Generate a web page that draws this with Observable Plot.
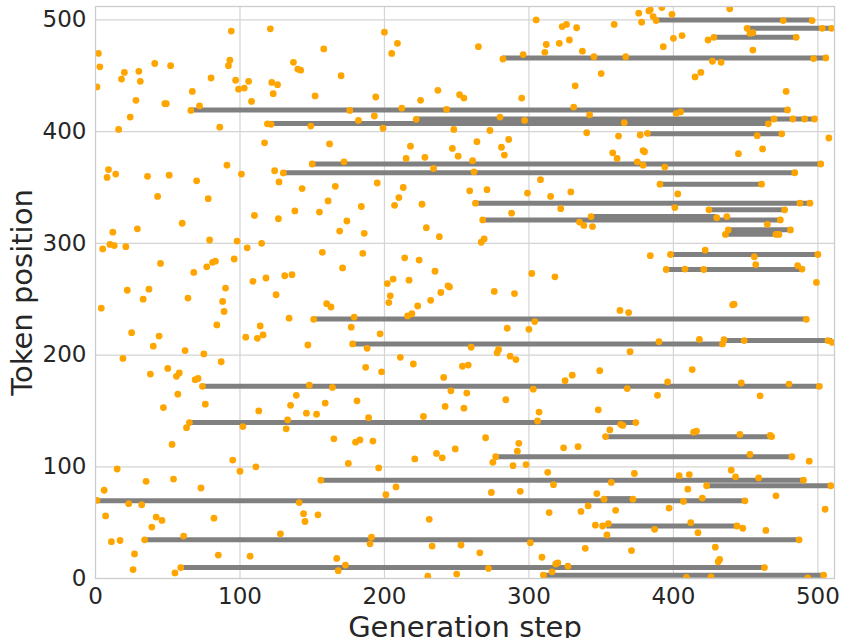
<!DOCTYPE html>
<html><head><meta charset="utf-8">
<script src="https://cdn.jsdelivr.net/npm/d3@7"></script>
<script src="https://cdn.jsdelivr.net/npm/@observablehq/plot@0.6"></script>
<style>body{margin:0;background:#fff}</style>
</head><body><div id="chart"></div>
<script>
const xTicks = [0, 100, 200, 300, 400, 500];
const yTicks = [0, 100, 200, 300, 400, 500];
const xLabel = "Generation step";
const yLabel = "Token position";

// gray segments: token position, first step, last step
const segPos   = [500, 492.5, 484.4, 466, 419.4, 407.3, 411.3, 398, 371, 363.2, 353, 336, 330, 321, 324, 312.2, 308.2, 290, 276.6, 232.2, 210, 213, 172, 139.6, 126.8, 109, 88, 83, 69.5, 71.5, 47, 34.6, 9.8, 3];
const segStart = [388, 451, 428, 282, 66, 119, 222, 382, 150, 130, 391, 263, 424.6, 268, 343, 437, 435.6, 397.6, 395, 150.8, 178, 434, 74.2, 65, 353, 277, 156, 422.8, 1, 352, 354, 34, 59, 310];
const segEnd   = [496, 510, 485, 505.5, 479, 466, 497.7, 475, 502, 484, 461, 494.5, 477, 474, 430, 480.6, 472.6, 500, 488.7, 491.7, 434, 510, 500.7, 374, 468.4, 482, 489.6, 508.8, 449.5, 372, 444, 487, 462.7, 503.7];

// orange points: [step, position]
const dots = [
[94,490],[121,492],[2,470],[3,458],[1,440],[20,453],[18,447],[30,454],[31,445],[41,461],[52,459],[28,428],[24,413],[16,402],[48,425],[49,425],[67,436],[66,419],[72,423],[80,448],[93,464],[92,459],[97,446],[99,438],[103,439],[106,445],[108,427],[86,404],[122,444],[126,442],[123,434],[119,407],[121.5,406.5],[117,390],[124,365],[127,355],[9,366],[8,359],[14,362],[36,360],[51,361],[70,356],[91,370],[101,362],[43,342],[78,340],
[200,489],[209,479],[205,470],[158,474],[137,462],[140,456],[142,455],[170,450],[152,432],[194,431],[176,419],[182,410],[193,414],[149,405],[199,403],[212,421],[222,411],[225,428],[237,437],[243,420],[252,433],[255,430],[248,402],[162,389],[218,387],[247,385],[251,378],[215,376],[228,377],[234,367],[150,371],[172,373],[130,363],[143,349],[166,351],[195,354],[213,350],[161,338],[210,341],
[305,500],[323,494],[326,496],[333,493],[359,496],[376,506],[378,498],[383,508],[265,476],[312,478],[311,471],[321,479],[328,482],[337,472],[282,465],[296,469],[345,467],[367,467],[350,452],[332,441],[295,430],[331,422],[342,415],[366,408],[280,413],[297,410],[273,401],[264,391],[286,393],[281,386],[283,379],[340,399],[362,396],[377,397],[382,398.5],[358,381],[361,376],[379,383],[380,382],[375,373],[379,370],[261,374],[262,364],[308,357],[259,347],[271,348],[299,345],[315,342],[329,346],
[392,511],[384,509],[439,510],[399,505],[386,503],[388,499.4],[476,499.4],[496,499.4],[451,492.5],[453,488],[455,488.5],[503,492.5],[509.5,492.5],[424,482],[428,484.4],[485,484.4],[406,486],[400,483.5],[393,476],[455,473],[497,465.4],[505.5,466],[427,463],[433,462],[419,453],[415,449],[478,436],[479,419.4],[402,416.4],[405,417.6],[469.6,411.3],[482.7,411.3],[490.8,411.3],[497.7,411.3],[465.7,407],[475,398],[458,396.4],[507.6,394.3],[445,380.3],[461.7,384.5],[394,368.3],[502,371],[484,363.2],[390.7,353],[461,353],[403,344.2],[487.6,336],[494.5,336],
[110,325],[126.6,322],[12,310],[29,313],[60,318],[5,295],[10,299],[13,298],[21,297],[79,303],[98,302],[105,296],[115,300],[45,282],[68,274],[77,279],[81,283],[83,284],[96,286],[109,266],[118,269],[125,254],[22,258],[37,259],[33,250],[64,251],[4,242],[90,260],[88,248],[89,239],[84,227],[25,220],[44,217],[40,208],[62,204],[75,201],[19,197],[87,194],[114,226],[104,216],[112,215],[116,218],[50,188],[38,183],[56,181],[58,184],[69,178],[71,179],[74,172],[57,165],
[138,329],[155,328],[184,333],[174,320],[169,311],[186,309],[207,334],[226,335],[229,314],[238,306],[157,292],[185,291],[171,278],[131,271],[136,272],[214,287],[224,285],[235,275],[202,264],[206,268],[217,267],[244,262],[245,261],[239,256],[204,253],[203,247],[232,249],[223,244],[216,235],[219,237],[160,246],[163,243],[134,233],[151,232],[179,234],[177,225],[197,219],[147,209],[178,210],[188,206],[211,198],[220,192],[187,189],[198,185],[241,180],[254,190],[246,168],[148,173],[164,171],[139,164],
[263,336],[288,327],[322,331],[268,321],[335,319],[338,316],[343,324],[344,315],[267,301],[269,304],[384,289],[302,273],[318,270],[276,257],[290,255],[363,240],[369,238],[304,230],[285,224],[300,223],[260,207],[278,202],[279,205],[287,199],[291,196],[258,191],[370,203],[349,186],[330,182],[325,177],[257,166],[303,169.5],[368,170],
[401,332],[424.6,330],[477,330],[430,323],[437,324],[474,321],[465,317],[438,312],[481,312],[436,308],[473,308],[471,308],[398,290],[422,294],[456,288],[500,290],[457,281],[395,276.6],[408,277],[421,276.6],[486,280],[489,277],[499,265],[441,245],[442,245.5],[492,232],[390,212],[418,214],[434,210],[435,213.7],[449,213],[507,213],[510,211.3],[413,187],[396,176],[447,175],[480,174],[501,172],[389,164],[460,163.5],
[47,153],[76,156],[113,150],[65,139.6],[63,135],[102,136],[53,120],[95,106],[100,96],[111,100],[15,98],[35,87],[54,89],[73,81],[6,79],[1,70],[23,67],[32,66],[7,56],[42,55],[46,52],[39,46],[82,54],[11,33],[17,34],[34,34.6],[61,38],[27,22],[85,21],[107,20],[26,8],[55,5],[59,9.8],[128,40],
[135,155],[146,148],[153,147],[159,157],[181,159],[189,144],[133,142],[132,134],[165,125],[180,122],[183,124],[192,123],[175,103],[196,99],[227,145],[242,154],[255,152.5],[221,107],[236,112],[240,108],[249,116],[156,88],[208,82],[201,75],[141,68],[144,58],[145,51],[154,57],[191,37],[190,31],[167,18],[173,12],[168,7],[231,53],[233,29],[253,30],[230,2],[250,4],
[284,160],[307,149],[306,141],[348,151],[374,139.6],[363.5,138],[365,137],[356,133],[353,127],[270,126],[293,121],[292,114],[324,117],[334,118],[277,109],[275,104],[289,101],[298,102],[313,95],[373,94],[317,84],[357,86],[274,77],[294,78],[347,76],[352,71],[372,71],[341,65],[336,60],[360,61],[314,59],[346,47.7],[351,47],[355,49],[354,39],[301,32],[266,23],[272,9],[309,19],[318.5,13],[320,14],[327,11],[316,6],[310,3],[339,27],[371,25],
[414,131],[416,132],[446,129],[467,128],[468,127],[453,111],[482,109],[494,105],[440,97],[404,92],[411,93],[443,91],[459,90],[490,88],[423,83],[509,83],[410,80],[471,74],[420,72],[407,69],[449.5,69.5],[397,63],[505,62],[387,44],[412,50],[444,47],[448,45],[417,41],[464,43],[487,34.6],[429,28],[431,15],[432,17],[463,9.8],[409,1],[426,1.4],[493,0.5],[504,3]
];

const segments = segPos.map((p, i) => ({pos: p, start: segStart[i], end: segEnd[i]}));

const chart = Plot.plot({
  width: 842,
  height: 638,
  marginLeft: 95,
  marginRight: 8,
  marginTop: 6,
  marginBottom: 60,
  style: {fontFamily: "'DejaVu Sans', sans-serif", background: "#ffffff", color: "#262626", overflow: "visible"},
  x: {domain: [0, 511.5]},
  y: {domain: [0, 512]},
  marks: [
    Plot.gridX(xTicks.slice(1), {stroke: "#d4d4d4", strokeOpacity: 1, strokeWidth: 1.2}),
    Plot.gridY(yTicks.slice(1), {stroke: "#d4d4d4", strokeOpacity: 1, strokeWidth: 1.2}),
    Plot.ruleY(segments, {y: "pos", x1: "start", x2: "end", stroke: "#808080", strokeWidth: 5, clip: true}),
    Plot.dot(dots, {x: d => d[0], y: d => d[1], r: 3.4, fill: "#ffa500", stroke: "none", clip: true}),
    Plot.frame({stroke: "#cccccc", strokeWidth: 1.3}),
    Plot.axisX(xTicks, {tickSize: 0, tickPadding: 9, fontSize: 23, label: null}),
    Plot.axisY(yTicks, {tickSize: 0, tickPadding: 9, fontSize: 23, label: null}),
    Plot.text([xLabel], {text: d => d, frameAnchor: "bottom", textAnchor: "middle", lineAnchor: "middle", dy: 49, fontSize: 29}),
    Plot.text([yLabel], {text: d => d, frameAnchor: "left", textAnchor: "middle", lineAnchor: "middle", dx: -73, rotate: -90, fontSize: 29})
  ]
});
document.getElementById("chart").append(chart);
</script>
</body></html>
